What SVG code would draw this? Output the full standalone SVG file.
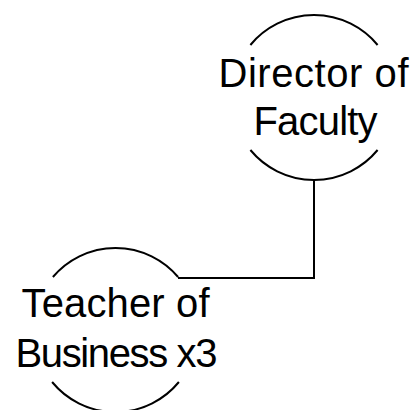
<svg xmlns="http://www.w3.org/2000/svg" width="417" height="410" viewBox="0 0 417 410">
<style>
.arc{fill:none;stroke:#000;stroke-width:2}
.conn{fill:none;stroke:#000;stroke-width:2}
.lbl{font-family:"Liberation Sans",Arial,sans-serif;font-size:40px;fill:#000;text-anchor:middle}
</style>
<rect width="417" height="410" fill="#fff"/>
<g id="connectors">
<path class="conn" d="M314,180 V278 H178"/>
</g>
<g id="director">
<path class="arc" d="M250.4,45 A82.5,82.5 0 0 1 377.6,45"/>
<path class="arc" d="M250.4,150 A82.5,82.5 0 0 0 377.6,150"/>
<text class="lbl" x="313.5" y="86.7" textLength="190">Director of</text>
<text class="lbl" x="315.5" y="135" textLength="124">Faculty</text>
</g>
<g id="teacher">
<path class="arc" d="M52.9,277 A82,82 0 0 1 178.1,277"/>
<path class="arc" d="M52.1,382 A82,82 0 0 0 178.9,382"/>
<text class="lbl" x="115.5" y="316.7" textLength="188">Teacher of</text>
<text class="lbl" x="116.5" y="366.7" textLength="202">Business x3</text>
</g>
</svg>
